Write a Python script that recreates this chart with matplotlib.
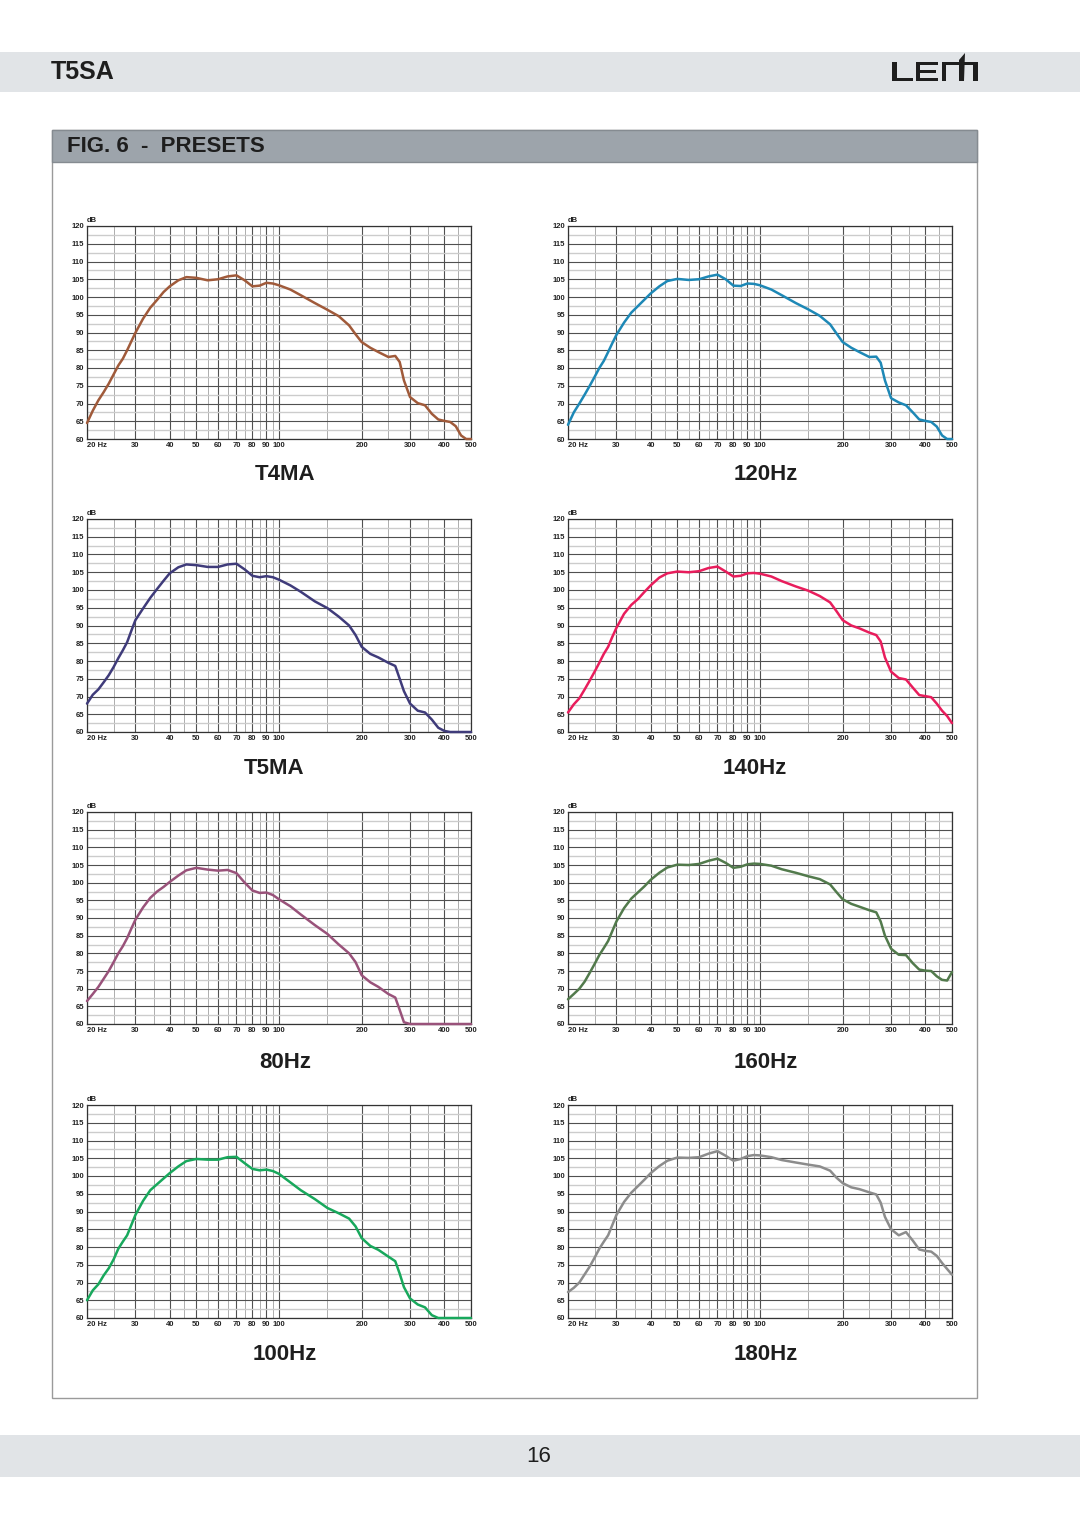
import matplotlib
matplotlib.use('Agg')
import matplotlib.pyplot as plt
from matplotlib.patches import Rectangle, Polygon
from matplotlib.ticker import NullFormatter

plt.rcParams['font.family'] = ['Liberation Sans', 'DejaVu Sans']

W, H = 1080, 1528

# ---------------- data ----------------
freqs = [20, 21, 22, 23, 24, 25, 26, 27, 28, 29, 30, 32, 34, 36, 38,
         40, 43, 46, 50, 55, 60, 65, 70, 75, 80, 85, 90, 95, 100,
         110, 120, 135, 150, 165, 180, 190, 200, 215, 230, 250, 265, 275, 285,
         300, 320, 340, 360, 380, 400, 420, 440, 460, 480, 500]

t4ma = [64.5, 68, 70.9, 73.2, 75.6, 78.2, 80.7, 82.6, 85, 87.5, 89.9, 93.9, 97, 99.2, 101.4,
        103, 104.7, 105.6, 105.4, 104.7, 105, 105.8, 106.1, 104.7, 103, 103.2, 104, 103.8, 103.3,
        102.1, 100.5, 98.3, 96.4, 94.6, 92, 89.5, 87.3, 85.7, 84.5, 83.1, 83.4, 81.7, 76.5,
        71.8, 70.1, 69.5, 67.1, 65.5, 65.1, 64.8, 63.6, 61, 60, 60]
hz120 = [64, 67.5, 70, 72.5, 75, 77.5, 80, 82, 84.5, 87, 89.3, 92.8, 95.6, 97.5, 99.3,
         101, 103, 104.5, 105.1, 104.8, 105, 105.8, 106.3, 105, 103.2, 103.1, 103.8, 103.7, 103.3,
         102.1, 100.5, 98.3, 96.5, 94.7, 92.3, 89.7, 87.3, 85.7, 84.5, 83.1, 83.2, 81.5, 76.5,
         71.5, 70.3, 69.5, 67.5, 65.5, 65.1, 64.8, 63.5, 61, 60, 60]
t5ma = [68, 70.5, 72, 74, 76, 78.3, 80.8, 83, 85.3, 88.5, 91.5, 94.8, 97.8, 100.3, 102.6,
        104.7, 106.4, 107.2, 107, 106.5, 106.5, 107.2, 107.4, 105.8, 104, 103.6, 103.9, 103.6, 102.9,
        101.3, 99.5, 96.8, 94.9, 92.5, 90, 87.3, 84, 82, 81, 79.5, 78.6, 75, 71.5,
        68, 66, 65.5, 63.5, 61.2, 60.3, 60, 60, 60, 60, 60]
hz140 = [65.5, 67.8, 69.5, 72, 74.5, 77, 79.5, 82, 84, 86.8, 89.3, 93.3, 95.8, 97.5, 99.5,
         101.3, 103.5, 104.7, 105.2, 105, 105.3, 106.2, 106.6, 105.2, 103.8, 104, 104.7, 104.8, 104.6,
         103.8, 102.5, 101, 99.8, 98.3, 96.5, 94, 91.5, 90, 89.2, 88, 87.3, 85.5, 81,
         77, 75.2, 74.8, 72.5, 70.4, 70.1, 69.8, 68, 66, 64.5, 62.5]
hz80 = [66.5, 68.5, 70.5, 72.8, 75, 77.5, 80, 82, 84.3, 87, 89.5, 93, 95.7, 97.5, 98.8,
        100.2, 102, 103.5, 104.2, 103.7, 103.4, 103.6, 102.7, 100, 97.8, 97.1, 97.2, 96.5, 95.3,
        93.3, 91, 88, 85.5, 82.5, 80, 77.5, 73.8, 71.8, 70.5, 68.5, 67.5, 64, 60.5,
        60, 60, 60, 60, 60, 60, 60, 60, 60, 60, 60]
hz160 = [67, 68.5, 70, 72, 74.5, 77, 79.5, 81.5, 83.5, 86.3, 89, 92.8, 95.5, 97.3, 99,
         100.8, 102.8, 104.3, 105.1, 105, 105.3, 106.2, 106.8, 105.6, 104.2, 104.5, 105.2, 105.4, 105.3,
         104.8, 103.8, 102.8, 101.8, 101, 99.5, 97.3, 95.3, 94, 93.2, 92.2, 91.6, 89, 85,
         81.3, 79.6, 79.5, 77.2, 75.4, 75.1, 75, 73.5, 72.5, 72.3, 74.7]
hz100 = [65, 67.8, 69.5, 72, 74, 76.5, 79.5, 81.5, 83.3, 86.2, 89, 93, 96, 97.7, 99.3,
         100.8, 102.7, 104.2, 104.8, 104.6, 104.6, 105.3, 105.4, 103.6, 102, 101.6, 101.8, 101.4, 100.6,
         98.2, 96, 93.5, 91, 89.5, 88, 85.8, 82.5, 80.3, 79.2, 77.3, 76, 72.5, 68.7,
         65.5, 63.8, 63, 60.8, 60, 60, 60, 60, 60, 60, 60]
hz180 = [67.3, 68.5, 70, 72.3, 74.5, 77, 79.5, 81.5, 83.3, 86.2, 89, 92.7, 95.3, 97.2, 99,
         100.8, 102.8, 104.3, 105.2, 105.1, 105.3, 106.3, 107, 105.7, 104.3, 104.8, 105.6, 105.9, 105.8,
         105.3, 104.5, 103.8, 103.2, 102.7, 101.5, 99.5, 98, 96.8, 96.3, 95.4, 94.8, 92.5, 88.5,
         85, 83.3, 84.2, 81.8, 79.3, 78.9, 78.7, 77.5, 75.5, 73.8, 72.2]

panel_titles = ['T4MA', '120Hz', 'T5MA', '140Hz', '80Hz', '160Hz', '100Hz', '180Hz']
series = [t4ma, hz120, t5ma, hz140, hz80, hz160, hz100, hz180]
colors = ['#a05a3a', '#1d88b6', '#3f3b7a', '#e81d5c', '#99527a', '#527a4c', '#18a85c', '#8c8c8c']

xtick_vals = [20, 30, 40, 50, 60, 70, 80, 90, 100, 200, 300, 400, 500]
xtick_labels = ['20 Hz', '30', '40', '50', '60', '70', '80', '90', '100', '200', '300', '400', '500']
xminor_vals = [25, 35, 45, 55, 65, 75, 85, 95, 150, 250, 350, 450]
ytick_vals = [60, 65, 70, 75, 80, 85, 90, 95, 100, 105, 110, 115, 120]
yminor_vals = [62.5, 67.5, 72.5, 77.5, 82.5, 87.5, 92.5, 97.5, 102.5, 107.5, 112.5, 117.5]

# ---------------- layout ----------------
fig = plt.figure(figsize=(W / 100, H / 100), dpi=100)
bg = fig.add_axes([0, 0, 1, 1])
bg.set_xlim(0, W)
bg.set_ylim(H, 0)
bg.axis('off')

# header band
bg.add_patch(Rectangle((0, 52), W, 40, color='#e1e4e7', lw=0))
bg.text(51, 72, 'T5SA', fontsize=18, fontweight='bold', ha='left', va='center',
        family=['Liberation Sans Narrow', 'Liberation Sans'], color='#1e1e1e')
# LEM logo
logo_c = '#1e1e1e'
for (x, y, w, h) in [(892, 62, 5, 19), (892, 78, 21, 3),
                     (916, 62, 4, 19), (916, 62, 22, 3), (916, 70, 20, 3), (916, 78, 22, 3),
                     (942, 62, 36, 3), (942, 62, 4, 19), (973, 62, 5, 19)]:
    bg.add_patch(Rectangle((x, y), w, h, color=logo_c, lw=0))
bg.add_patch(Polygon([(959, 81), (959, 60), (965, 53), (964, 81)], closed=True, color=logo_c, lw=0))

# panel
bg.add_patch(Rectangle((52, 130), 925, 1268, fc='white', ec='#9a9a9a', lw=1))
bg.add_patch(Rectangle((52, 130), 925, 32, fc='#9da4ab', ec='#858b91', lw=1))
bg.text(67, 146, 'FIG. 6  -  PRESETS', fontsize=16, fontweight='bold', ha='left', va='center',
        family=['Liberation Sans Narrow', 'Liberation Sans'], color='#1e1e1e')

# footer
bg.add_patch(Rectangle((0, 1435), W, 42, color='#e1e4e7', lw=0))
bg.text(539, 1456, '16', fontsize=16, ha='center', va='center',
        family=['Liberation Sans Narrow', 'Liberation Sans'], color='#1e1e1e')

cols = [(87, 471), (568, 952)]
rows = [(226, 439), (519, 732), (812, 1024), (1105, 1318)]
title_pos = [(285, 475), (766, 475), (274, 769), (755, 769),
             (285, 1062), (766, 1062), (285, 1354), (766, 1354)]

for i, (name, vals, col) in enumerate(zip(panel_titles, series, colors)):
    r, c = divmod(i, 2)
    x0, x1 = cols[c]
    y0, y1 = rows[r]
    ax = fig.add_axes([x0 / W, 1 - y1 / H, (x1 - x0) / W, (y1 - y0) / H])
    ax.set_xscale('log')
    ax.set_xlim(20, 500)
    ax.set_ylim(60, 120)
    ax.set_xticks(xtick_vals)
    ax.set_xticklabels(xtick_labels)
    ax.set_xticks(xminor_vals, minor=True)
    ax.xaxis.set_minor_formatter(NullFormatter())
    ax.set_yticks(ytick_vals)
    ax.set_yticks(yminor_vals, minor=True)
    ax.tick_params(which='both', length=0, pad=2, labelsize=5.5, colors='#222222')
    for lbl in ax.get_xticklabels() + ax.get_yticklabels():
        lbl.set_fontweight('bold')
    ax.get_xticklabels()[0].set_ha('left')
    ax.grid(which='major', axis='x', color='#505050', lw=0.8)
    ax.grid(which='minor', axis='x', color='#a0a0a0', lw=0.6)
    ax.grid(which='major', axis='y', color='#505050', lw=0.8)
    ax.grid(which='minor', axis='y', color='#cccccc', lw=1.0)
    ax.set_axisbelow(True)
    for s in ax.spines.values():
        s.set_color('#333333')
        s.set_linewidth(0.9)
    ax.text(0.0, 1.01, 'dB', transform=ax.transAxes, fontsize=5.5, fontweight='bold',
            ha='left', va='bottom', color='#222222')
    ax.plot(freqs, vals, color=col, lw=1.8, solid_joinstyle='round', solid_capstyle='round',
            clip_on=False, zorder=3)
    tx, ty = title_pos[i]
    bg.text(tx, ty, name, fontsize=16, fontweight='bold', ha='center', va='center', color='#1e1e1e')

fig.savefig('out.png', dpi=100)
